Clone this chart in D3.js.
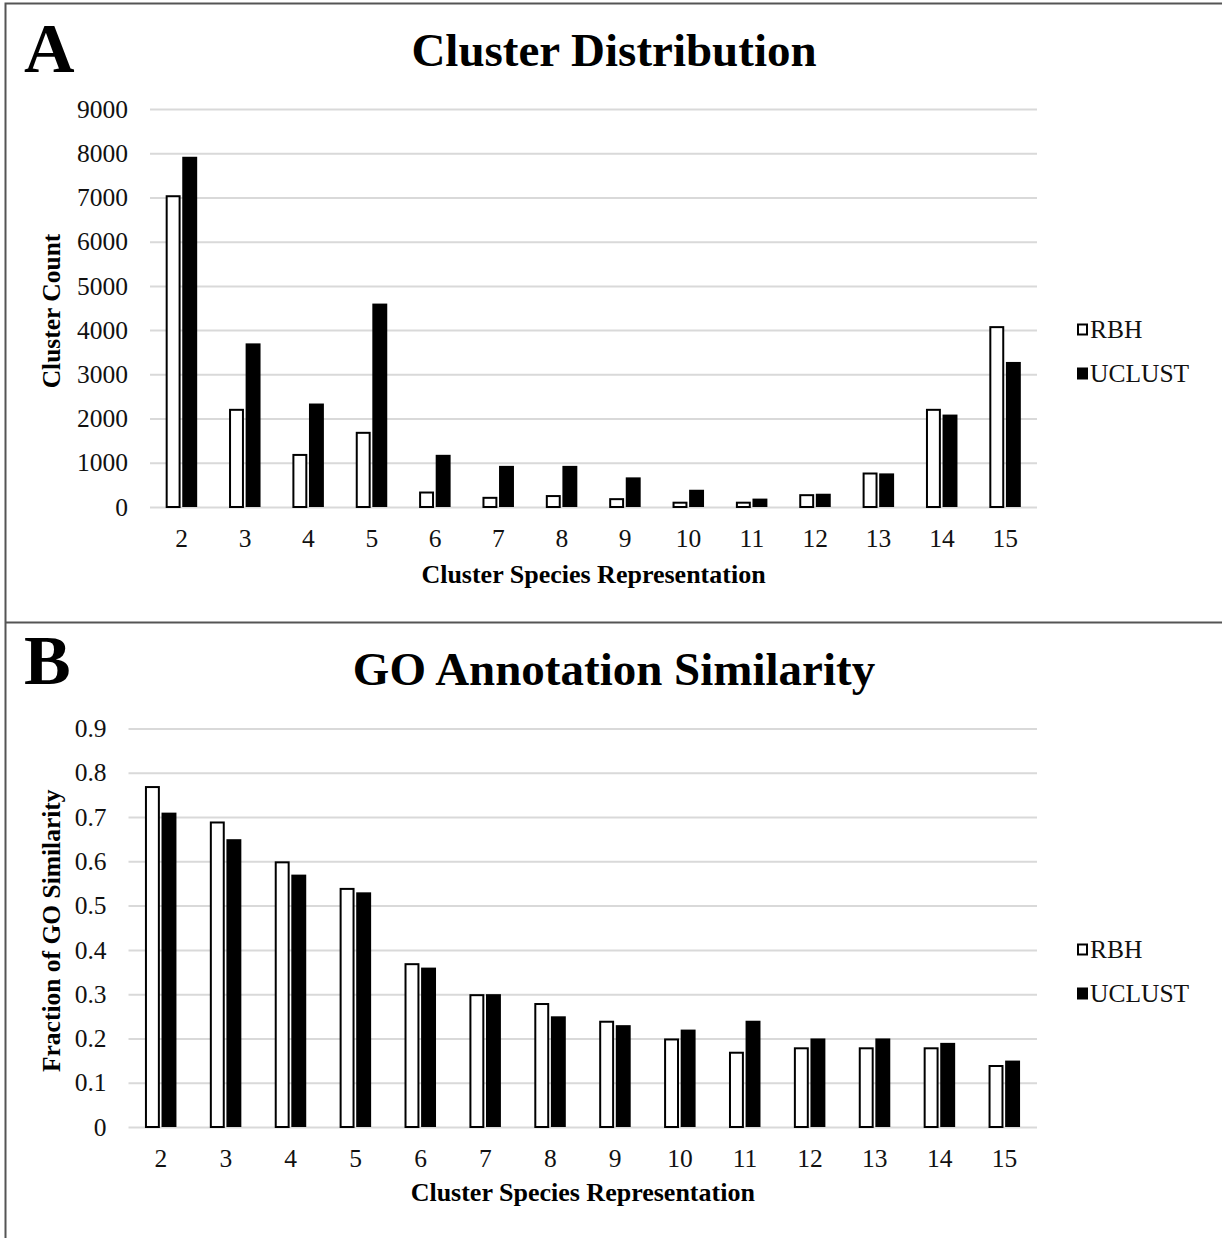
<!DOCTYPE html>
<html>
<head>
<meta charset="utf-8">
<script src="https://cdn.jsdelivr.net/npm/d3@7"></script>
<style>
  body { margin: 0; background: #fff; }
  svg { display: block; font-family: "Liberation Serif", "Times New Roman", serif; }
</style>
</head>
<body>
<div id="chart"></div>
<script>
const categories = ["2", "3", "4", "5", "6", "7", "8", "9", "10", "11", "12", "13", "14", "15"];
const seriesNames = ["RBH", "UCLUST"];

// Panel A - cluster counts
const rbhCount = [7050, 2220, 1200, 1700, 350, 230, 270, 200, 120, 120, 290, 780, 2220, 4090];
const uclustCount = [7920, 3700, 2340, 4600, 1180, 930, 930, 670, 390, 190, 300, 760, 2090, 3280];
const countTicks = [0, 1000, 2000, 3000, 4000, 5000, 6000, 7000, 8000, 9000];

// Panel B - GO similarity
const rbhGO = [0.77, 0.69, 0.6, 0.54, 0.37, 0.3, 0.28, 0.24, 0.2, 0.17, 0.18, 0.18, 0.18, 0.14];
const uclustGO = [0.71, 0.65, 0.57, 0.53, 0.36, 0.3, 0.25, 0.23, 0.22, 0.24, 0.2, 0.2, 0.19, 0.15];
const goTicks = [0, 0.1, 0.2, 0.3, 0.4, 0.5, 0.6, 0.7, 0.8, 0.9];

const svg = d3.select("#chart").append("svg")
  .attr("width", 1222)
  .attr("height", 1238);

// frame lines
svg.append("path")
  .attr("d", "M5.5,1238 V3.5 H1222 M5.5,622.5 H1222")
  .attr("fill", "none")
  .attr("stroke", "#555")
  .attr("stroke-width", 2);

drawPanel({
  letter: "A", letterY: 72,
  title: "Cluster Distribution", titleY: 66,
  yLabel: "Cluster Count",
  xLabel: "Cluster Species Representation", xLabelY: 583,
  left: 150, right: 1037, top: 109, bottom: 507,
  ticks: countTicks, tickFmt: (d) => d,
  rbh: rbhCount, uclust: uclustCount,
  legendY: 329
});

drawPanel({
  letter: "B", letterY: 684,
  title: "GO Annotation Similarity", titleY: 685,
  yLabel: "Fraction of GO Similarity",
  xLabel: "Cluster Species Representation", xLabelY: 1201,
  left: 128.5, right: 1037, top: 728.5, bottom: 1127,
  ticks: goTicks, tickFmt: (d) => (d === 0 ? "0" : d3.format(".1f")(d)),
  rbh: rbhGO, uclust: uclustGO,
  legendY: 949
});

function drawPanel(o) {
  const g = svg.append("g");

  g.append("text")
    .attr("x", 24)
    .attr("y", o.letterY)
    .attr("font-size", 70)
    .attr("font-weight", "bold")
    .text(o.letter);

  g.append("text")
    .attr("x", 614)
    .attr("y", o.titleY)
    .attr("text-anchor", "middle")
    .attr("font-size", 47)
    .attr("font-weight", "bold")
    .text(o.title);

  const x = d3.scaleBand()
    .domain(categories)
    .range([o.left, o.right]);

  const y = d3.scaleLinear()
    .domain([0, d3.max(o.ticks)])
    .range([o.bottom, o.top]);

  const xSub = d3.scaleBand()
    .domain(seriesNames)
    .range([x.bandwidth() / 2 - 16, x.bandwidth() / 2 + 15.5])
    .paddingInner(0.1);

  // gridlines
  g.append("g")
    .attr("transform", `translate(${o.left},0)`)
    .call(d3.axisLeft(y).tickValues(o.ticks).tickSize(-(o.right - o.left)).tickFormat(""))
    .call((s) => s.select(".domain").remove())
    .call((s) => s.selectAll("line").attr("stroke", "#d9d9d9").attr("stroke-width", 2));

  // y tick labels
  g.append("g")
    .attr("transform", `translate(${o.left - 10},0)`)
    .call(d3.axisLeft(y).tickValues(o.ticks).tickSize(0).tickPadding(12).tickFormat(o.tickFmt))
    .call((s) => s.select(".domain").remove())
    .call((s) => s.selectAll("text")
      .attr("font-size", 25.5)
      .attr("font-family", "Liberation Serif")
      .attr("fill", "#111"));

  // x tick labels
  g.append("g")
    .attr("transform", `translate(0,${o.bottom})`)
    .call(d3.axisBottom(x).tickSize(0).tickPadding(22))
    .call((s) => s.select(".domain").remove())
    .call((s) => s.selectAll("text")
      .attr("font-size", 25.5)
      .attr("font-family", "Liberation Serif")
      .attr("fill", "#111"));

  const groups = g.selectAll(".cat")
    .data(categories)
    .enter()
    .append("g")
    .attr("transform", (d) => `translate(${x(d)},0)`);

  groups.append("rect")
    .attr("x", (d) => xSub("RBH") + 1)
    .attr("y", (d, i) => y(o.rbh[i]) + 1)
    .attr("width", xSub.bandwidth() - 2)
    .attr("height", (d, i) => o.bottom - y(o.rbh[i]) - 1)
    .attr("fill", "#fff")
    .attr("stroke", "#000")
    .attr("stroke-width", 2);

  groups.append("rect")
    .attr("x", (d) => xSub("UCLUST"))
    .attr("y", (d, i) => y(o.uclust[i]))
    .attr("width", xSub.bandwidth())
    .attr("height", (d, i) => o.bottom - y(o.uclust[i]))
    .attr("fill", "#000");

  // axis titles
  g.append("text")
    .attr("transform", `translate(60,${(o.top + o.bottom) / 2 + 3}) rotate(-90)`)
    .attr("text-anchor", "middle")
    .attr("font-size", 25.5)
    .attr("font-weight", "bold")
    .text(o.yLabel);

  g.append("text")
    .attr("x", (o.left + o.right) / 2)
    .attr("y", o.xLabelY)
    .attr("text-anchor", "middle")
    .attr("font-size", 26)
    .attr("font-weight", "bold")
    .text(o.xLabel);

  // legend
  const legend = g.append("g").attr("transform", `translate(1077,${o.legendY})`);
  seriesNames.forEach((name, i) => {
    const row = legend.append("g").attr("transform", `translate(0,${i * 44})`);
    if (name === "RBH") {
      row.append("rect")
        .attr("x", 1).attr("y", -4.5).attr("width", 9).attr("height", 10)
        .attr("fill", "#fff").attr("stroke", "#000").attr("stroke-width", 2);
    } else {
      row.append("rect")
        .attr("x", 0).attr("y", -5.5).attr("width", 11).attr("height", 12)
        .attr("fill", "#000");
    }
    row.append("text")
      .attr("x", 13)
      .attr("y", 9)
      .attr("font-size", 25.5)
      .attr("fill", "#111")
      .text(name);
  });
}
</script>
</body>
</html>
